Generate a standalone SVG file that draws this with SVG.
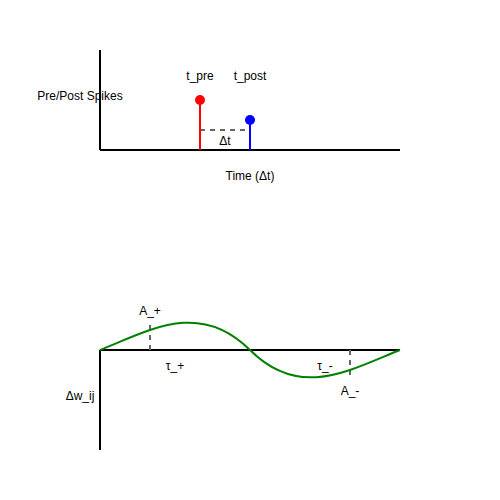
<svg xmlns="http://www.w3.org/2000/svg" width="500" height="500" viewBox="0 0 500 500">
<style>
.axis{stroke:#000;stroke-width:2;fill:none}
.dash{stroke:#666;stroke-width:2;stroke-dasharray:5,5;fill:none}
text{font-family:"Liberation Sans",Arial,sans-serif;font-size:12px;fill:#000;text-anchor:middle}
</style>
<rect width="500" height="500" fill="#fff"/>
<g id="connectors">
<line class="axis" x1="100" y1="50" x2="100" y2="150"/>
<line class="axis" x1="100" y1="150" x2="400" y2="150"/>
<line class="dash" x1="200" y1="130" x2="250" y2="130"/>
<line class="axis" x1="100" y1="350" x2="400" y2="350"/>
<line class="axis" x1="100" y1="350" x2="100" y2="450"/>
<line class="dash" x1="150" y1="325" x2="150" y2="350"/>
<line class="dash" x1="350" y1="350" x2="350" y2="375"/>
</g>
<g id="pre-spike">
<line x1="200" y1="100" x2="200" y2="150" stroke="red" stroke-width="2"/>
<circle cx="200" cy="100" r="5" fill="red"/>
<text x="200" y="80">t_pre</text>
</g>
<g id="post-spike">
<line x1="250" y1="120" x2="250" y2="150" stroke="blue" stroke-width="2"/>
<circle cx="250" cy="120" r="5" fill="blue"/>
<text x="250" y="80">t_post</text>
</g>
<g id="top-labels">
<text x="80" y="100">Pre/Post Spikes</text>
<text x="225" y="145">Δt</text>
<text x="250" y="180">Time (Δt)</text>
</g>
<g id="stdp-curve">
<path d="M100,350 C150,330 200,300 250,350 S350,370 400,350" stroke="green" stroke-width="2" fill="none"/>
</g>
<g id="bottom-labels">
<text x="150" y="315">A_+</text>
<text x="175" y="370">τ_+</text>
<text x="325" y="370">τ_-</text>
<text x="350" y="395">A_-</text>
<text x="80" y="400">Δw_ij</text>
</g>
</svg>
